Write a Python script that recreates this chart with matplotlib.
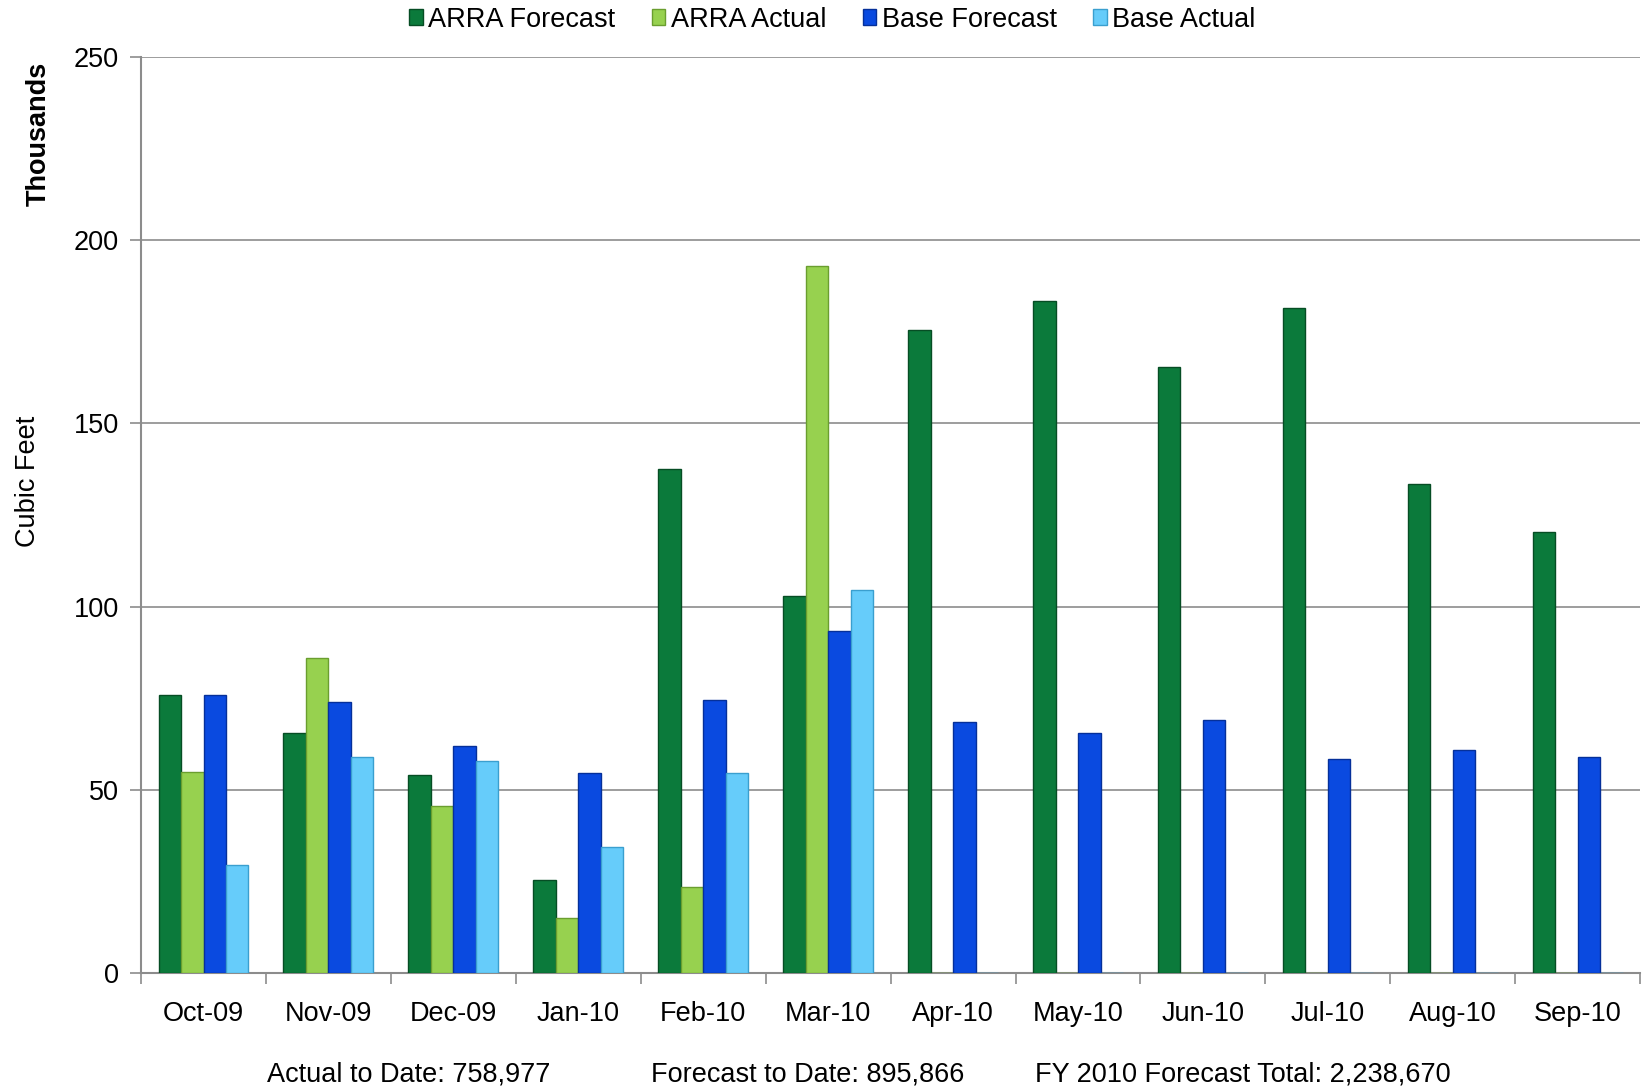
import matplotlib.pyplot as plt
import numpy as np

plt.rcParams['font.family'] = ['Liberation Sans', 'DejaVu Sans']

months = ['Oct-09', 'Nov-09', 'Dec-09', 'Jan-10', 'Feb-10', 'Mar-10',
          'Apr-10', 'May-10', 'Jun-10', 'Jul-10', 'Aug-10', 'Sep-10']
arra_forecast = [76, 65.5, 54, 25.5, 137.5, 103, 175.5, 183.5, 165.5, 181.5, 133.5, 120.5]
arra_actual = [55, 86, 45.5, 15, 23.5, 193, 0, 0, 0, 0, 0, 0]
base_forecast = [76, 74, 62, 54.5, 74.5, 93.5, 68.5, 65.5, 69, 58.5, 61, 59]
base_actual = [29.5, 59, 58, 34.5, 54.5, 104.5, 0, 0, 0, 0, 0, 0]

series = [('ARRA Forecast', arra_forecast, '#0b7a3b', '#064d24'),
          ('ARRA Actual', arra_actual, '#97d14f', '#6a9e2f'),
          ('Base Forecast', base_forecast, '#0a4ae0', '#05309a'),
          ('Base Actual', base_actual, '#66ccfa', '#3a9fcf')]

fs = 19.5

fig = plt.figure(figsize=(16.42, 10.91), dpi=100)
ax = fig.add_axes([0.0859, 0.108, 0.913, 0.8398])

x = np.arange(len(months))
w = 0.18
for i, (name, vals, col, edge) in enumerate(series):
    pos = x + (i - 1.5) * w
    ax.bar(pos, vals, width=w, color=col, edgecolor=edge, linewidth=1.0,
           label=name, zorder=3)

ax.set_ylim(0, 250)
ax.set_xlim(-0.5, len(months) - 0.5)
ax.set_yticks(np.arange(0, 251, 50))
ax.yaxis.grid(True, color='#8c8c8c', linewidth=1.2, zorder=0)
ax.set_xticks(x)
ax.set_xticklabels(months, fontsize=fs)
ax.set_xticks(np.arange(-0.5, len(months), 1), minor=True)
ax.tick_params(axis='x', which='major', length=0, pad=20)
ax.tick_params(axis='x', which='minor', length=8, color='#8c8c8c', width=1.2)
ax.tick_params(axis='y', labelsize=fs, length=8, color='#8c8c8c', width=1.2, pad=8)
for s in ['top', 'right']:
    ax.spines[s].set_visible(False)
for s in ['left', 'bottom']:
    ax.spines[s].set_color('#8c8c8c')
    ax.spines[s].set_linewidth(1.5)

fig.text(0.0236, 0.877, 'Thousands', rotation=90, fontsize=fs, fontweight='bold',
         ha='center', va='center')
fig.text(0.0172, 0.5585, 'Cubic Feet', rotation=90, fontsize=fs,
         ha='center', va='center')

fig.legend(loc='center', bbox_to_anchor=(0.507, 0.982), ncol=4, frameon=False,
           fontsize=fs, handlelength=0.5, handleheight=0.5, handletextpad=0.2,
           columnspacing=1.35)

fig.text(0.249, 0.0154, 'Actual to Date: 758,977', fontsize=fs, ha='center', va='center')
fig.text(0.492, 0.0154, 'Forecast to Date: 895,866', fontsize=fs, ha='center', va='center')
fig.text(0.757, 0.0154, 'FY 2010 Forecast Total: 2,238,670', fontsize=fs, ha='center', va='center')

fig.savefig('out.png', dpi=100)
